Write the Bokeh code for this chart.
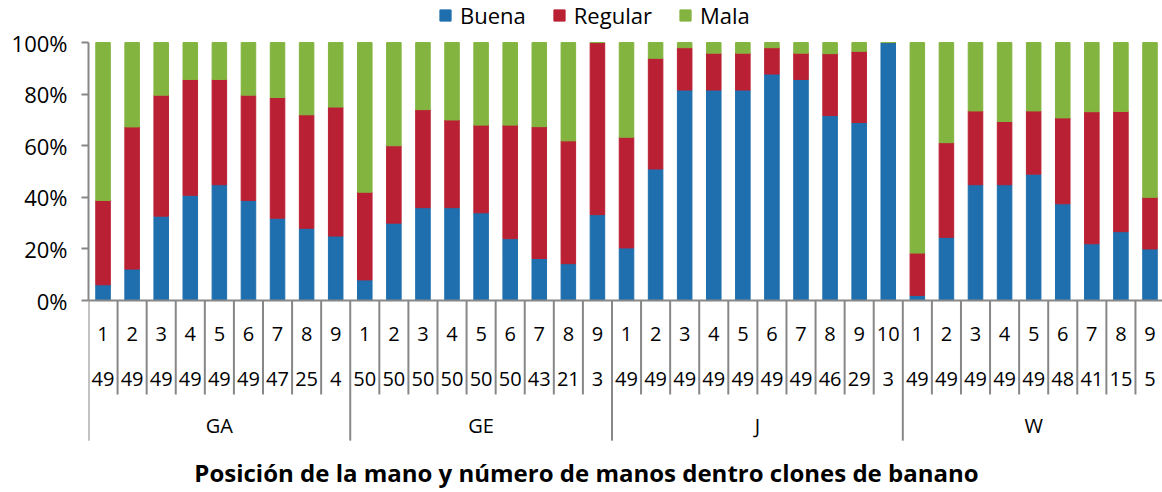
from bokeh.plotting import figure
from bokeh.models import (Range1d, FixedTicker, PrintfTickFormatter, ColumnDataSource,
                          Label, Legend)
from bokeh.core.properties import value
from bokeh.embed import file_html
from bokeh.resources import INLINE

# ---------------- data ----------------
groups = ["GA", "GE", "J", "W"]
group_sizes = [9, 9, 10, 9]
positions = ["1", "2", "3", "4", "5", "6", "7", "8", "9",
             "1", "2", "3", "4", "5", "6", "7", "8", "9",
             "1", "2", "3", "4", "5", "6", "7", "8", "9", "10",
             "1", "2", "3", "4", "5", "6", "7", "8", "9"]
counts = ["49", "49", "49", "49", "49", "49", "47", "25", "4",
          "50", "50", "50", "50", "50", "50", "43", "21", "3",
          "49", "49", "49", "49", "49", "49", "49", "46", "29", "3",
          "49", "49", "49", "49", "49", "48", "41", "15", "5"]
buena = [6.1, 12.2, 32.7, 40.8, 44.9, 38.8, 31.9, 28.0, 25.0,
         8.0, 30.0, 36.0, 36.0, 34.0, 24.0, 16.3, 14.3, 33.3,
         20.4, 51.0, 81.6, 81.6, 81.6, 87.8, 85.7, 71.7, 69.0, 100.0,
         2.0, 24.5, 44.9, 44.9, 49.0, 37.5, 22.0, 26.7, 20.0]
regular = [32.7, 55.1, 46.9, 44.9, 40.8, 40.8, 46.8, 44.0, 50.0,
           34.0, 30.0, 38.0, 34.0, 34.0, 44.0, 51.1, 47.6, 66.7,
           42.9, 42.9, 16.4, 14.3, 14.3, 10.2, 10.2, 24.0, 27.6, 0.0,
           16.4, 36.7, 28.6, 24.5, 24.5, 33.3, 51.2, 46.6, 20.0]
mala = [61.2, 32.7, 20.4, 14.3, 14.3, 20.4, 21.3, 28.0, 25.0,
        58.0, 40.0, 26.0, 30.0, 32.0, 32.0, 32.6, 38.1, 0.0,
        36.7, 6.1, 2.0, 4.1, 4.1, 2.0, 4.1, 4.3, 3.4, 0.0,
        81.6, 38.8, 26.5, 30.6, 26.5, 29.2, 26.8, 26.7, 60.0]
series = ["Buena", "Regular", "Mala"]
colors = ["#1F6FAE", "#BA2033", "#84B440"]
y_ticks = [0, 20, 40, 60, 80, 100]
title_text = "Posición de la mano y número de manos  dentro clones de banano"

FONT = "Open Sans"
AX = "#878787"

n = len(positions)
xs = list(range(n))
src = ColumnDataSource(dict(x=xs, Buena=buena, Regular=regular, Mala=mala))

p = figure(width=1162, height=492,
           x_range=Range1d(-0.5, n - 0.57), y_range=Range1d(-74.4, 116.3),
           output_backend="svg", toolbar_location=None, x_axis_location=None,
           min_border_left=88, min_border_right=0, min_border_top=0, min_border_bottom=0)
p.outline_line_color = None
p.xgrid.visible = False
p.ygrid.visible = False

ya = p.yaxis[0]
ya.ticker = FixedTicker(ticks=y_ticks)
ya.formatter = PrintfTickFormatter(format="%d%%")
ya.bounds = (0, 100)
ya.axis_line_color = AX
ya.axis_line_width = 2
ya.major_tick_line_color = AX
ya.major_tick_line_width = 2
ya.major_tick_out = 7
ya.major_tick_in = 0
ya.minor_tick_in = 0
ya.minor_tick_out = 0
ya.major_label_text_font = FONT
ya.major_label_text_font_size = "22px"
ya.major_label_text_color = "#000000"
ya.major_label_standoff = 14

renderers = p.vbar_stack(series, x="x", width=0.5, color=colors, source=src)

legend = Legend(items=[(s, [r]) for s, r in zip(series, renderers)],
                orientation="horizontal", location=(350, 462),
                glyph_width=14, glyph_height=14, label_standoff=8, spacing=26,
                padding=0, margin=0, border_line_color=None, background_fill_alpha=0,
                label_text_font=FONT, label_text_font_size="22px",
                label_text_color="#000000", label_height=22)
p.add_layout(legend)

# category axis (Excel-style multi-level)
starts = []
acc = 0
for s in group_sizes:
    starts.append(acc)
    acc += s
long_x = [s - 0.5 for s in starts] + [n - 0.5]
short_x = [i - 0.5 for i in range(1, n) if i not in starts]
p.segment(x0=long_x, y0=0, x1=long_x, y1=-54.3, line_color=AX, line_width=2)
p.segment(x0=short_x, y0=0, x1=short_x, y1=-36.4, line_color=AX, line_width=2)
p.segment(x0=[-0.5], y0=[0], x1=[n - 0.5], y1=[0], line_color=AX, line_width=2)

p.text(x=xs, y=-12.8, text=positions, text_align="center", text_baseline="middle",
       text_font=value(FONT), text_font_size="20px", text_color="#000000")
p.text(x=xs, y=-30.6, text=counts, text_align="center", text_baseline="middle",
       text_font=value(FONT), text_font_size="20px", text_color="#000000")
centers = [s + (sz - 1) / 2 for s, sz in zip(starts, group_sizes)]
p.text(x=centers, y=-48.4, text=groups, text_align="center", text_baseline="middle",
       text_font=value(FONT), text_font_size="20px", text_color="#000000")

p.add_layout(Label(x=16.73, y=-66.7, text=title_text, text_align="center",
                   text_baseline="middle", text_font=FONT, text_font_style="bold",
                   text_font_size="24px", text_color="#000000"))

open("out.html", "w").write(file_html(p, INLINE))
